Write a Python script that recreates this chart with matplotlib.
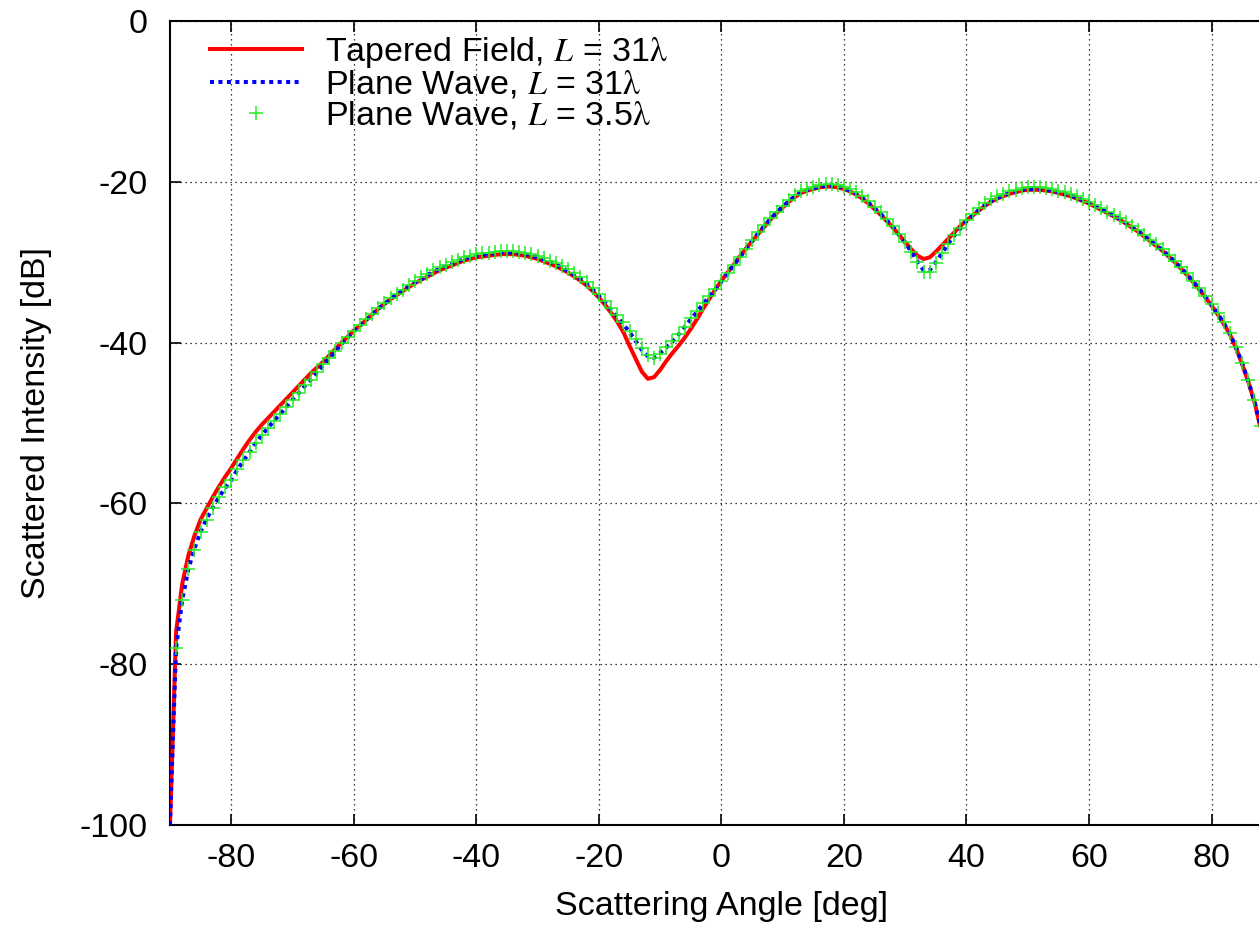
import numpy as np
import matplotlib
matplotlib.use('Agg')
import matplotlib.pyplot as plt

# scattering angle grid [deg], one value per degree
angle = list(range(-90, 91))

# plane wave, L = 31 lambda (blue dotted)
plane31 = [
    -100, -78.0, -72.0, -68.2, -65.6, -63.5, -61.9, -60.5, -59.2, -58.1,   # -90..-81
    -57.1, -55.8, -54.7, -53.6, -52.5, -51.5, -50.6, -49.7, -48.9, -48.0,  # -80..-71
    -47.1, -46.3, -45.4, -44.6, -43.7, -42.8, -42.0, -41.1, -40.2, -39.4,  # -70..-61
    -38.6, -37.9, -37.2, -36.5, -35.8, -35.2, -34.6, -34.0, -33.5, -33.0,  # -60..-51
    -32.5, -32.1, -31.6, -31.2, -30.8, -30.5, -30.2, -29.9, -29.6, -29.4,  # -50..-41
    -29.2, -29.1, -29.0, -28.9, -28.8, -28.8, -28.8, -28.9, -29.0, -29.2,  # -40..-31
    -29.4, -29.7, -30.0, -30.3, -30.7, -31.1, -31.6, -32.1, -32.7, -33.4,  # -30..-21
    -34.2, -35.0, -35.9, -36.8, -37.7, -38.7, -39.8, -40.9, -41.7, -41.9,  # -20..-11
    -41.3, -40.6, -39.9, -39.0, -38.1, -37.1, -36.2, -35.2, -34.3, -33.4,  # -10..-1
    -32.4, -31.4, -30.4, -29.4, -28.4, -27.4, -26.4, -25.5, -24.6, -23.8,  # 0..9
    -23.1, -22.4, -21.8, -21.3, -21.0, -20.8, -20.6, -20.5, -20.5, -20.6,  # 10..19
    -20.8, -21.1, -21.5, -22.0, -22.6, -23.3, -24.0, -24.8, -25.6, -26.6,  # 20..29
    -27.6, -28.7, -29.9, -31.0, -31.0, -30.0, -28.9, -27.7, -26.7, -25.8,  # 30..39
    -24.9, -24.2, -23.5, -22.9, -22.4, -22.0, -21.7, -21.4, -21.2, -21.0,  # 40..49
    -20.9, -20.9, -20.9, -21.0, -21.1, -21.3, -21.5, -21.7, -22.0, -22.3,  # 50..59
    -22.6, -23.0, -23.4, -23.8, -24.2, -24.6, -25.1, -25.6, -26.1, -26.7,  # 60..69
    -27.3, -27.9, -28.5, -29.2, -29.9, -30.7, -31.5, -32.4, -33.3, -34.3,  # 70..79
    -35.3, -36.4, -37.6, -38.9, -40.6, -42.6, -44.8, -47.3, -50.5, -57.0,  # 80..89
    -100,                                                                  # 90
]

# tapered field, L = 31 lambda (red solid)
tapered31 = [
    -100, -76.0, -70.0, -66.5, -64.0, -62.0, -60.6, -59.2, -57.9, -56.7,
    -55.6, -54.4, -53.2, -52.1, -51.1, -50.2, -49.4, -48.6, -47.8, -47.0,
    -46.2, -45.4, -44.6, -43.8, -43.1, -42.4, -41.6, -40.8, -40.0, -39.3,
    -38.5, -37.9, -37.2, -36.5, -35.8, -35.2, -34.6, -34.1, -33.6, -33.1,
    -32.6, -32.2, -31.8, -31.4, -31.0, -30.7, -30.4, -30.1, -29.8, -29.6,
    -29.4, -29.3, -29.2, -29.1, -29.0, -29.0, -29.0, -29.1, -29.2, -29.4,
    -29.6, -29.9, -30.2, -30.5, -30.9, -31.3, -31.8, -32.3, -32.9, -33.6,
    -34.4, -35.3, -36.3, -37.4, -38.7, -40.4, -42.0, -43.6, -44.5, -44.3,
    -43.4, -42.3, -41.3, -40.4, -39.4, -38.3, -37.1, -35.8, -34.6, -33.4,
    -32.3, -31.3, -30.3, -29.3, -28.3, -27.4, -26.5, -25.6, -24.7, -23.9,
    -23.2, -22.5, -21.9, -21.4, -21.1, -20.9, -20.7, -20.6, -20.6, -20.7,
    -20.9, -21.2, -21.6, -22.1, -22.7, -23.4, -24.1, -24.9, -25.7, -26.6,
    -27.5, -28.4, -29.2, -29.6, -29.4, -28.7, -27.9, -27.1, -26.3, -25.5,
    -24.8, -24.2, -23.6, -23.0, -22.5, -22.1, -21.8, -21.5, -21.3, -21.1,
    -21.0, -21.0, -21.0, -21.1, -21.2, -21.4, -21.6, -21.8, -22.1, -22.4,
    -22.7, -23.1, -23.5, -23.9, -24.3, -24.7, -25.2, -25.7, -26.2, -26.8,
    -27.4, -28.0, -28.6, -29.3, -30.0, -30.8, -31.6, -32.5, -33.4, -34.4,
    -35.4, -36.5, -37.7, -39.0, -40.7, -42.7, -44.9, -47.4, -50.6, -57.0,
    -100,
]

# plane wave, L = 3.5 lambda (green markers), from -89 deg
angle35 = list(range(-89, 91))
plane35 = [
    -78.0, -72.0, -68.2, -65.8, -63.6, -62.1, -60.6, -59.2, -58.0,         # -89..-81
    -57.1, -55.7, -54.6, -53.6, -52.5, -51.5, -50.6, -49.8, -48.9, -48.0,  # -80..-71
    -47.1, -46.3, -45.3, -44.6, -43.6, -42.7, -41.9, -41.0, -40.1, -39.3,
    -38.5, -37.8, -37.1, -36.4, -35.7, -35.1, -34.5, -33.9, -33.4, -32.9,
    -32.4, -31.9, -31.5, -31.0, -30.6, -30.3, -30.0, -29.7, -29.4, -29.2,
    -29.0, -28.9, -28.8, -28.7, -28.6, -28.6, -28.6, -28.7, -28.8, -29.0,
    -29.2, -29.5, -29.8, -30.1, -30.5, -30.9, -31.4, -31.9, -32.5, -33.2,
    -34.0, -34.8, -35.7, -36.6, -37.5, -38.5, -39.6, -40.7, -41.6, -41.9,
    -41.4, -40.6, -39.8, -38.9, -38.0, -37.0, -36.1, -35.1, -34.2, -33.3,
    -32.3, -31.3, -30.3, -29.3, -28.3, -27.3, -26.3, -25.4, -24.5, -23.7,
    -23.0, -22.3, -21.7, -21.2, -20.9, -20.6, -20.4, -20.3, -20.3, -20.4,
    -20.6, -20.9, -21.3, -21.8, -22.4, -23.1, -23.8, -24.6, -25.5, -26.5,
    -27.5, -28.7, -30.0, -31.2, -31.2, -30.1, -28.9, -27.7, -26.6, -25.7,
    -24.8, -24.0, -23.3, -22.7, -22.2, -21.8, -21.5, -21.2, -21.0, -20.8,
    -20.7, -20.7, -20.7, -20.8, -20.9, -21.1, -21.3, -21.5, -21.8, -22.1,
    -22.5, -22.9, -23.3, -23.7, -24.1, -24.5, -25.0, -25.5, -26.0, -26.6,
    -27.2, -27.8, -28.4, -29.1, -29.8, -30.6, -31.4, -32.3, -33.2, -34.2,
    -35.2, -36.3, -37.5, -38.8, -40.5, -42.5, -44.7, -47.2, -50.4, -57.0,
    -100,
]

xticks = [-80, -60, -40, -20, 0, 20, 40, 60, 80]
yticks = [-100, -80, -60, -40, -20, 0]

plt.rcParams['font.family'] = ['Liberation Sans', 'DejaVu Sans']
plt.rcParams['mathtext.fontset'] = 'stix'
plt.rcParams['axes.unicode_minus'] = False

FS = 24.5

fig = plt.figure(figsize=(12.59, 9.32), dpi=100)
ax = fig.add_axes([0.135, 0.1148, 0.876, 0.8627])

ax.plot(angle, tapered31, color='#ff0000', lw=2.9, zorder=3,
        label=r'Tapered Field, $L$ = 31$\mathrm{\lambda}$')
ax.plot(angle, plane31, color='#0000ff', lw=2.9, ls=(0, (1, 1.1)), zorder=4,
        label=r'Plane Wave, $L$ = 31$\mathrm{\lambda}$')
ax.plot(angle35, plane35, ls='none', marker='+', ms=10, mew=1.1,
        color='#22ee22', zorder=5, label=r'Plane Wave, $L$ = 3.5$\mathrm{\lambda}$')

ax.set_xlim(-90, 90)
ax.set_ylim(-100, 0)
ax.set_xticks(xticks)
ax.set_yticks(yticks)
ax.tick_params(direction='in', length=8, width=1.2, labelsize=FS,
               top=True, right=True, pad=13)
ax.tick_params(axis='y', pad=16)
for s in ax.spines.values():
    s.set_linewidth(1.5)
ax.grid(True, color='black', ls=(0, (1, 3)), lw=0.9)
ax.set_axisbelow(True)

ax.set_xlabel('Scattering Angle [deg]', fontsize=FS, labelpad=12)
ax.set_ylabel('Scattered Intensity [dB]', fontsize=FS, labelpad=20)

ax.legend(loc='upper left', bbox_to_anchor=(0.024, 1.0), frameon=False,
          fontsize=FS, handlelength=2.7, handletextpad=0.68,
          labelspacing=-0.03, borderaxespad=0)

fig.savefig('out.png')
